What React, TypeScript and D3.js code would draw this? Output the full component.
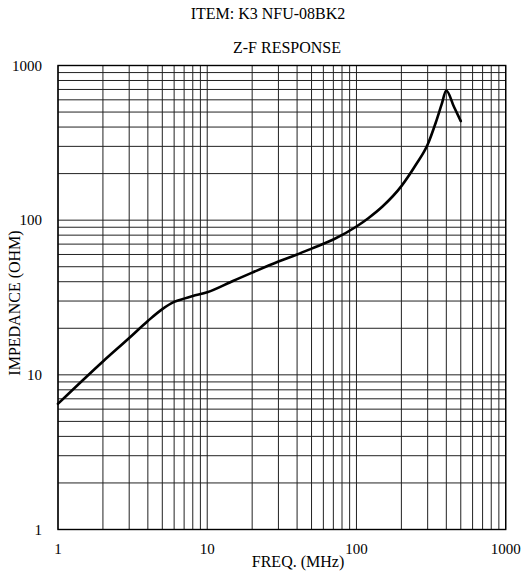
import React from "react";
import * as d3 from "d3";

const freqMHz: number[] = [1, 2, 3, 4, 5, 6, 7, 8, 10, 15, 20, 30, 40, 50, 70, 100, 120, 150, 200, 250, 300, 340, 372, 400, 450, 500];
const impedanceOhm: number[] = [6.5, 12.2, 17.3, 22.3, 26.6, 29.6, 31.1, 32.3, 34.2, 40.6, 45.8, 54, 60, 65.5, 75, 91, 103, 123, 166, 228, 308, 428, 560, 690, 541, 437];
const xTickLabels: number[] = [1, 10, 100, 1000];
const yTickLabels: number[] = [1, 10, 100, 1000];
const titleText = "ITEM: K3 NFU-08BK2";
const subtitleText = "Z-F RESPONSE";
const xAxisLabel = "FREQ. (MHz)";
const yAxisLabel = "IMPEDANCE (OHM)";

const W = 528;
const H = 576;
const left = 58;
const right = 505.7;
const top = 65.5;
const bottom = 529.5;
const font = "'Liberation Serif', 'Times New Roman', serif";

function logGrid(): number[] {
  const vals: number[] = [];
  for (let e = 0; e < 3; e++) {
    for (let m = 1; m <= 9; m++) {
      vals.push(m * Math.pow(10, e));
    }
  }
  vals.push(1000);
  return vals;
}

export default function App() {
  const x = d3.scaleLog().domain([1, 1000]).range([left, right]);
  const y = d3.scaleLog().domain([1, 1000]).range([bottom, top]);
  const grid = logGrid();
  const pts: [number, number][] = freqMHz.map((f, i) => [f, impedanceOhm[i]]);
  const line = d3
    .line<[number, number]>()
    .x((d) => x(d[0]))
    .y((d) => y(d[1]))
    .curve(d3.curveMonotoneX);

  return (
    <svg width={W} height={H} style={{ position: "absolute", left: 0, top: 0 }}>
      <rect x={0} y={0} width={W} height={H} fill="#fff" />
      <g>
        {grid.map((v, i) => (
          <line key={"v" + i} x1={x(v)} x2={x(v)} y1={top} y2={bottom} stroke="#222" strokeWidth={1} />
        ))}
        {grid.map((v, i) => (
          <line key={"h" + i} x1={left} x2={right} y1={y(v)} y2={y(v)} stroke="#222" strokeWidth={1} />
        ))}
      </g>
      <rect x={left} y={top} width={right - left} height={bottom - top} fill="none" stroke="#000" strokeWidth={1.4} />
      <path d={line(pts) || ""} fill="none" stroke="#000" strokeWidth={2.6} strokeLinejoin="round" strokeLinecap="round" />
      <g fontFamily={font} fill="#000">
        {yTickLabels.map((v) => (
          <text key={"yl" + v} x={42} y={y(v) + 5.3} textAnchor="end" fontSize={15}>
            {v}
          </text>
        ))}
        {xTickLabels.map((v) => (
          <text key={"xl" + v} x={x(v)} y={554} textAnchor="middle" fontSize={15}>
            {v}
          </text>
        ))}
        <text x={268} y={19} textAnchor="middle" fontSize={16}>{titleText}</text>
        <text x={287} y={53} textAnchor="middle" fontSize={16}>{subtitleText}</text>
        <text x={298} y={567} textAnchor="middle" fontSize={16}>{xAxisLabel}</text>
        <text transform={`translate(20,303) rotate(-90)`} textAnchor="middle" fontSize={16}>{yAxisLabel}</text>
      </g>
    </svg>
  );
}
